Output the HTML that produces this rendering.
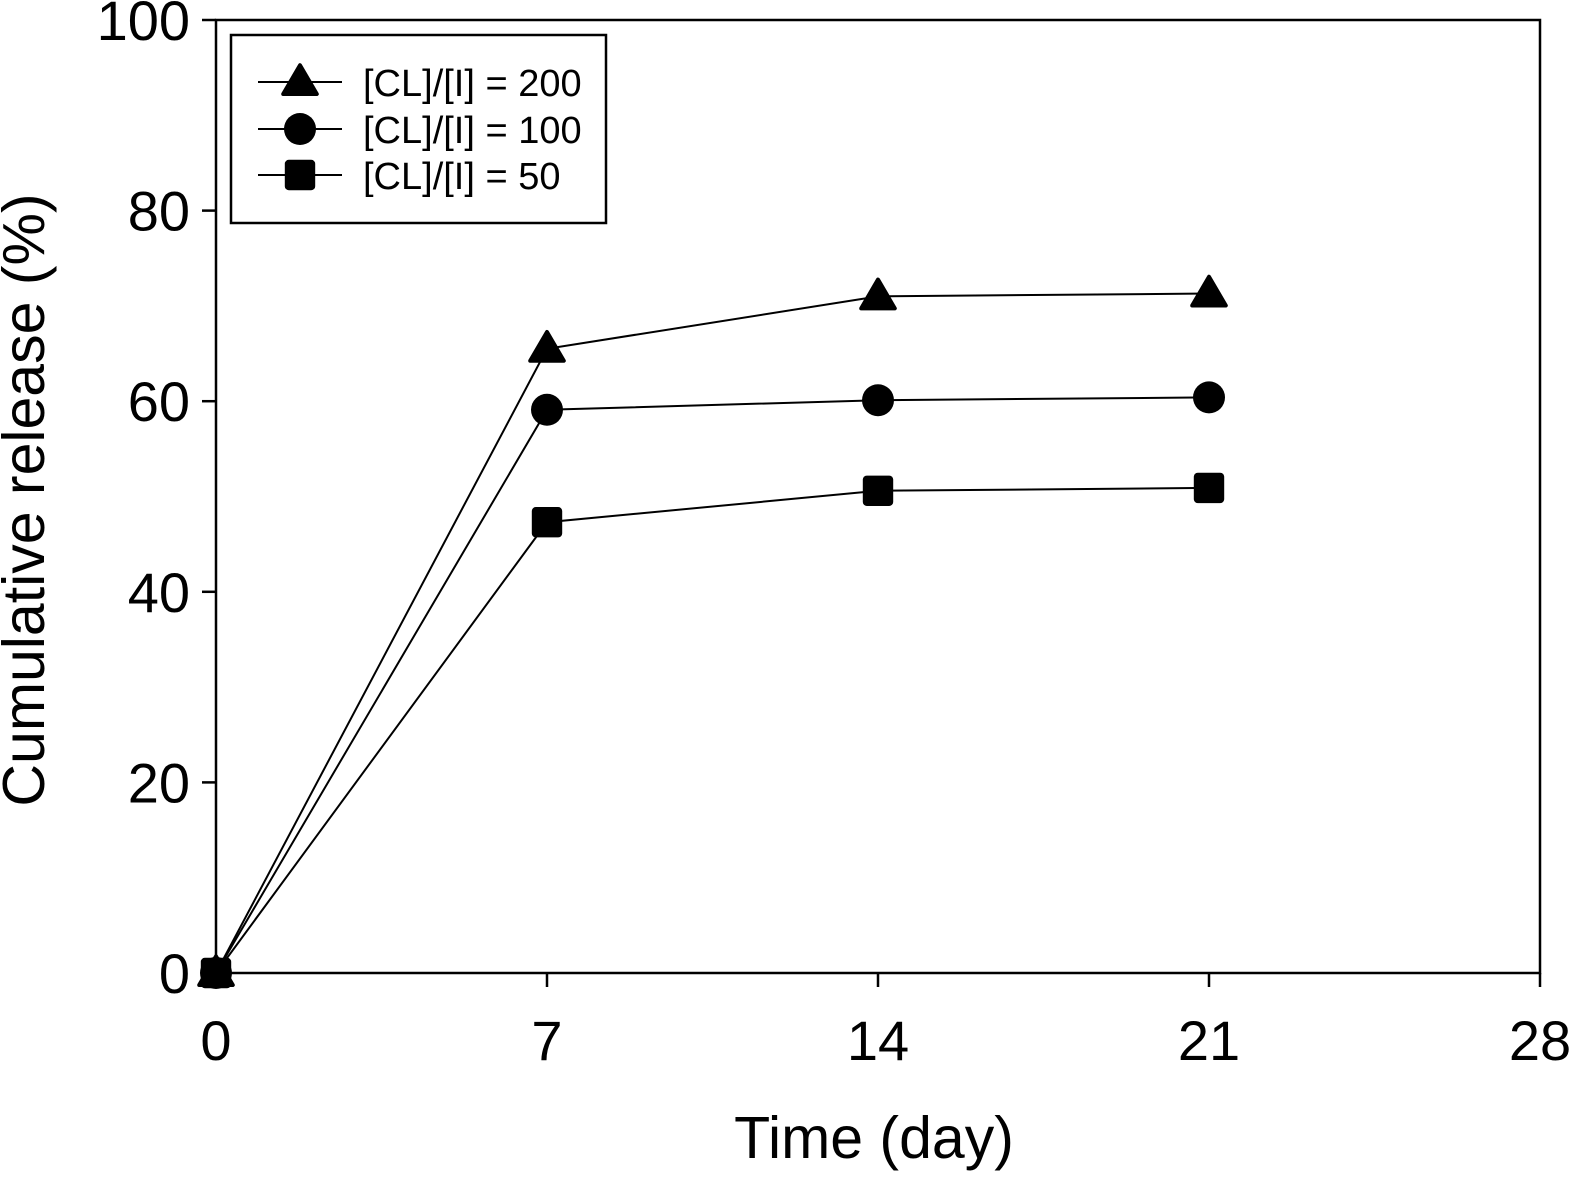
<!DOCTYPE html>
<html><head><style>
body{margin:0;background:#fff}
svg text{font-family:"Liberation Sans",Arial,sans-serif;fill:#000}
</style></head><body>
<svg id="chart" width="1571" height="1173" xmlns="http://www.w3.org/2000/svg">
<g id="axes"></g>
<g id="series"></g>
<g id="legend"></g>
</svg>
<script>
const days = [0, 7, 14, 21];
const xTicks = [0, 7, 14, 21, 28];
const yTicks = [0, 20, 40, 60, 80, 100];
const series200 = [0, 65.5, 71.0, 71.3];
const series100 = [0, 59.1, 60.1, 60.4];
const series50 = [0, 47.3, 50.6, 50.9];
const seriesNames = ["[CL]/[I] = 200", "[CL]/[I] = 100", "[CL]/[I] = 50"];

const L=216,R=1540,T=20,B=973;
const xs=v=>L+(v/28)*(R-L);
const ys=v=>B-(v/100)*(B-T);
const NS="http://www.w3.org/2000/svg";
function mk(tag,attrs,parent){const e=document.createElementNS(NS,tag);for(const k in attrs)e.setAttribute(k,attrs[k]);parent.appendChild(e);return e;}
const axes=document.getElementById('axes'),ser=document.getElementById('series'),leg=document.getElementById('legend');

let frame=mk('rect',{x:L,y:T,width:R-L,height:B-T,fill:'none',stroke:'#000','stroke-width':2.5},axes);


yTicks.forEach(v=>{
  let t=mk('line',{x1:L-14,x2:L,y1:ys(v),y2:ys(v),stroke:'#000','stroke-width':2.5},axes);
  
  
  let tx=mk('text',{x:190,y:ys(v)+20,'text-anchor':'end','font-size':56},axes);tx.textContent=v;
  
  
});
xTicks.forEach(v=>{
  let t=mk('line',{x1:xs(v),x2:xs(v),y1:B,y2:B+14,stroke:'#000','stroke-width':2.5},axes);
  
  
  let tx=mk('text',{x:xs(v),y:1060,'text-anchor':'middle','font-size':56},axes);tx.textContent=v;
  
  
});
let xt=mk('text',{x:874,y:1158,'text-anchor':'middle','font-size':59},axes);xt.textContent='Time (day)';


let yt=mk('text',{x:0,y:0,'text-anchor':'middle','font-size':59,transform:'translate(44,500) rotate(-90)'},axes);yt.textContent='Cumulative release (%)';



function marker(shape,x,y,parent,s){
  let e;
  if(shape==='tri'){e=mk('path',{d:`M${x},${y-s*1.05} L${x+s*1.05},${y+s*0.75} L${x-s*1.05},${y+s*0.75}Z`,fill:'#000',stroke:'#000','stroke-width':4,'stroke-linejoin':'round'},parent);}
  else if(shape==='circ'){e=mk('circle',{cx:x,cy:y,r:s,fill:'#000'},parent);}
  else {e=mk('rect',{x:x-s*0.95,y:y-s*0.95,width:s*1.9,height:s*1.9,rx:4,fill:'#000'},parent);}
  return e;
}
const all=[[series200,'tri'],[series100,'circ'],[series50,'sq']];
all.forEach(([vals,shape],i)=>{
  let pl=mk('polyline',{points:days.map((d,j)=>xs(d)+','+ys(vals[j])).join(' '),fill:'none',stroke:'#000','stroke-width':2},ser);
  
  
  days.forEach((d,j)=>{
    let m=marker(shape,xs(d),ys(vals[j]),ser,16);
    
    
  });
});
let lb=mk('rect',{x:231,y:35,width:375,height:188,fill:'#fff',stroke:'#000','stroke-width':2.5},leg);


[82,129,175].forEach((y,i)=>{
  let ln=mk('line',{x1:258,x2:342,y1:y,y2:y,stroke:'#000','stroke-width':2},leg);
  
  
  let m=marker(all[i][1],300,y,leg,16);
  
  
  let tx=mk('text',{x:363,y:y+14,'font-size':38},leg);tx.textContent=seriesNames[i];
  
  
});
</script>
</body></html>
